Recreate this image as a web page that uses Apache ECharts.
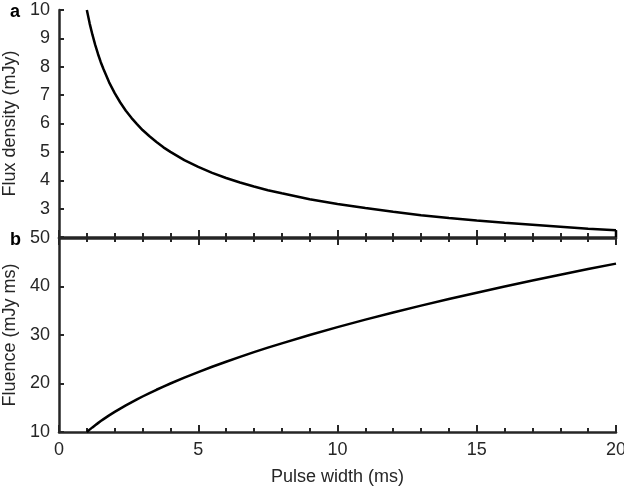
<!DOCTYPE html>
<html><head><meta charset="utf-8">
<script src="https://cdn.jsdelivr.net/npm/echarts@6/dist/echarts.min.js"></script>
<style>html,body{margin:0;padding:0;background:#fff}#c{width:624px;height:491px}</style>
</head><body><div id="c"></div>
<script>
const widths = [1, 1.1, 1.2, 1.3, 1.4, 1.5, 1.6, 1.8, 2, 2.2, 2.4, 2.6, 2.8, 3, 3.25, 3.5, 3.75, 4, 4.5, 5, 5.5, 6, 6.5, 7, 7.5, 8, 9, 10, 11, 12, 13, 14, 15, 16, 17, 18, 19, 20];
const fluxDensity = [10, 9.53, 9.13, 8.77, 8.45, 8.16, 7.91, 7.45, 7.07, 6.74, 6.45, 6.20, 5.98, 5.77, 5.55, 5.35, 5.16, 5.0, 4.71, 4.47, 4.26, 4.08, 3.92, 3.78, 3.65, 3.54, 3.33, 3.16, 3.02, 2.89, 2.77, 2.67, 2.58, 2.5, 2.43, 2.36, 2.29, 2.24];
const fluence = [10, 10.49, 10.95, 11.40, 11.83, 12.25, 12.65, 13.42, 14.14, 14.83, 15.49, 16.12, 16.73, 17.32, 18.03, 18.71, 19.36, 20.0, 21.21, 22.36, 23.45, 24.49, 25.50, 26.46, 27.39, 28.28, 30.0, 31.62, 33.17, 34.64, 36.06, 37.42, 38.73, 40.0, 41.23, 42.43, 43.59, 44.72];
const fluxTicks = [3, 4, 5, 6, 7, 8, 9, 10];
const fluenceTicks = [10, 20, 30, 40, 50];
const xTicks = [0, 5, 10, 15, 20];

const axisColor = '#262626';
const textColor = '#262626';
const font = 'Liberation Sans, Arial, sans-serif';
const fs = 18;

function xAxisBase(gridIndex, position, showLabels) {
  return {
    type: 'value', gridIndex, position, min: 0, max: 20, interval: 5,
    axisLine: { show: true, onZero: false, lineStyle: { color: axisColor, width: 2.5 } },
    axisTick: { show: true, inside: true, length: 7, lineStyle: { color: axisColor, width: 2 } },
    minorTick: { show: true, splitNumber: 5, length: 4, lineStyle: { color: axisColor, width: 2 } },
    splitLine: { show: false },
    axisLabel: { show: showLabels, color: textColor, fontSize: fs, fontFamily: font, margin: 9,
      formatter: v => xTicks.includes(v) ? String(v) : '' },
    name: showLabels ? 'Pulse width (ms)' : '', nameLocation: 'middle', nameGap: 36,
    nameTextStyle: { color: textColor, fontSize: fs, fontFamily: font }
  };
}

const option = {
  animation: false,
  backgroundColor: '#fff',
  grid: [
    { left: 59, right: 8, top: 10, height: 227, outerBoundsMode: 'none', containLabel: false },
    { left: 59, right: 8, top: 238, bottom: 59, outerBoundsMode: 'none', containLabel: false }
  ],
  xAxis: [
    xAxisBase(0, 'bottom', false),
    xAxisBase(1, 'bottom', true),
    xAxisBase(1, 'top', false)
  ],
  yAxis: [
    {
      type: 'value', gridIndex: 0, min: 2, max: 10, interval: 1,
      axisLine: { show: true, lineStyle: { color: axisColor, width: 2.5 } },
      axisTick: { show: true, inside: true, length: 5, lineStyle: { color: axisColor, width: 2 } },
      splitLine: { show: false },
      axisLabel: { color: textColor, fontSize: fs, fontFamily: font, margin: 9,
        formatter: v => fluxTicks.includes(v) ? String(v) : '' },
      name: 'Flux density (mJy)', nameLocation: 'middle', nameGap: 23,
      nameTextStyle: { color: textColor, fontSize: fs, fontFamily: font }
    },
    {
      type: 'value', gridIndex: 1, min: 10, max: 50, interval: 10,
      axisLine: { show: true, lineStyle: { color: axisColor, width: 2.5 } },
      axisTick: { show: true, inside: true, length: 5, lineStyle: { color: axisColor, width: 2 } },
      splitLine: { show: false },
      axisLabel: { color: textColor, fontSize: fs, fontFamily: font, margin: 9,
        formatter: v => fluenceTicks.includes(v) ? String(v) : '' },
      name: 'Fluence (mJy ms)', nameLocation: 'middle', nameGap: 23,
      nameTextStyle: { color: textColor, fontSize: fs, fontFamily: font }
    }
  ],
  graphic: [
    { type: 'text', left: 10, top: 3, style: { text: 'a', font: 'bold 18px ' + font, fill: '#000' } },
    { type: 'text', left: 10, top: 231, style: { text: 'b', font: 'bold 18px ' + font, fill: '#000' } }
  ],
  series: [
    { type: 'line', xAxisIndex: 0, yAxisIndex: 0, showSymbol: false,
      lineStyle: { color: '#000', width: 2.5 }, data: widths.map((w, i) => [w, fluxDensity[i]]) },
    { type: 'line', xAxisIndex: 0, yAxisIndex: 0, showSymbol: false,
      lineStyle: { color: '#000', width: 2.5 }, data: [[20, fluxDensity[fluxDensity.length - 1]], [20, 2]] },
    { type: 'line', xAxisIndex: 1, yAxisIndex: 1, showSymbol: false,
      lineStyle: { color: '#000', width: 2.5 }, data: widths.map((w, i) => [w, fluence[i]]) }
  ]
};
echarts.init(document.getElementById('c')).setOption(option);
</script></body></html>
